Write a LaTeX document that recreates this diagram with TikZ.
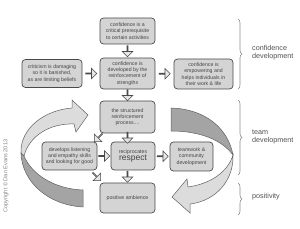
\documentclass[tikz,border=0pt]{standalone}
\usepackage{fontspec}
\setmainfont{Liberation Sans}
\usetikzlibrary{shapes.arrows,decorations.pathreplacing,calc}
\definecolor{boxfill}{HTML}{D4D4D4}
\definecolor{boxline}{HTML}{4A4A4A}
\definecolor{txt}{HTML}{444444}
\definecolor{arrfill}{HTML}{E6E6E6}
\definecolor{ribbonlight}{HTML}{DCDCDC}
\definecolor{ribbondark}{HTML}{A4A4A4}
\definecolor{ribbonline}{HTML}{606060}
\definecolor{bracecol}{HTML}{8A8A8A}
\definecolor{labcol}{HTML}{505050}
\begin{document}
\begin{tikzpicture}[x=1pt,y=-1pt,
  box/.style={draw=boxline, fill=boxfill, rounded corners=3.5pt, line width=0.7pt, text=txt, align=center, font=\fontsize{5.2}{6.3}\selectfont, inner sep=0pt},
  barrow/.style={single arrow, draw=boxline, fill=arrfill, line width=0.55pt, minimum height=11pt, minimum width=10.5pt, single arrow head extend=2.5pt, inner sep=0pt},
  ribbon/.style={draw=ribbonline, line width=0.5pt},
  bracestyle/.style={draw=bracecol, line width=0.6pt, decorate, decoration={brace, amplitude=4pt}},
  lab/.style={text=labcol, align=left, anchor=west, font=\fontsize{7.2}{8.5}\selectfont, inner sep=0pt}]
\useasboundingbox (0,0) rectangle (300,229);

% big curved ribbons
\fill[ribbonlight, ribbon] (21,153) .. controls (20,128) and (45,110) .. (72,108)
  -- (72,100) -- (88,115) -- (76,132) -- (74,124)
  .. controls (50,123) and (29,136) .. (24,156) -- cycle;
\fill[ribbondark, ribbon] (21,153) .. controls (22,182) and (48,205) .. (83,207)
  -- (83,190) .. controls (55,189) and (32,175) .. (24,156) -- cycle;

\fill[ribbondark, ribbon] (171,108) .. controls (205,109) and (228,128) .. (233,155)
  .. controls (222,140) and (200,131) .. (171,131) -- cycle;
\fill[ribbonlight, ribbon] (233,155) .. controls (234,180) and (216,201) .. (190,204)
  -- (190,213) -- (172,197) -- (187,179) -- (188,187)
  .. controls (210,184) and (228,172) .. (233,155) -- cycle;

% boxes
\node[box, minimum width=55pt, minimum height=26pt] (A) at (127.5,31) {confidence is a\\critical prerequisite\\to certain activities};
\node[box, minimum width=55pt, minimum height=31pt] (B) at (127.5,73.5) {confidence is\\developed by the\\reinforcement of\\strengths};
\node[box, minimum width=60pt, minimum height=28pt] (C) at (52,73.5) {criticism is damaging\\so it is banished,\\as are limiting beliefs};
\node[box, minimum width=59pt, minimum height=30pt] (D) at (203.5,74) {confidence is\\empowering and\\helps individuals in\\their work \& life};
\node[box, minimum width=55pt, minimum height=32pt] (E) at (127.5,117) {the structured\\reinforcement\\process....};
\node[box, minimum width=55pt, minimum height=28pt] (F) at (69.5,156) {develops listening\\and empathy skills\\and looking for good};
\node[box, minimum width=44pt, minimum height=28pt] (G) at (133,156) {reciprocates\\{\fontsize{8.5}{9}\selectfont respect}};
\node[box, minimum width=43pt, minimum height=29pt] (H) at (191.5,156.5) {teamwork \&\\community\\development};
\node[box, minimum width=55pt, minimum height=30pt] (I) at (127.5,198) {positive ambience};

% small block arrows
\node[barrow, rotate=-90] (ab) at ($(A.south)!0.5!(B.north)$) {};
\node[barrow] (cb) at ($(C.east)!0.5!(B.west)$) {};
\node[barrow] (bd) at ($(B.east)!0.5!(D.west)$) {};
\node[barrow, rotate=-90] (be) at ($(B.south)!0.5!(E.north)$) {};
\node[barrow, rotate=225] (ef) at ($(E.south west)!0.5!(F.north east)$) {};
\node[barrow, rotate=-90] (eg) at ($(E.south)!0.5!(E.south |- G.north)$) {};
\node[barrow] (fg) at ($(F.east)!0.5!(G.west)$) {};
\node[barrow] (gh) at ($(G.east)!0.5!(H.west)$) {};
\node[barrow, rotate=-90] (gi) at ($(I.north |- G.south)!0.5!(I.north)$) {};
\node[barrow, rotate=-45] (fi) at ($(F.south east)!0.5!(I.north west)+(-2,0)$) {};

% braces and labels
\coordinate (b1t) at (238,19);  \coordinate (b1b) at (238,89);
\coordinate (b2t) at (238,100); \coordinate (b2b) at (238,175);
\coordinate (b3t) at (238,183); \coordinate (b3b) at (238,215);
\draw[bracestyle] (b1t) -- (b1b);
\draw[bracestyle] (b2t) -- (b2b);
\draw[bracestyle] (b3t) -- (b3b);
\node[lab] (l1) at (252,52.5) {confidence\\development};
\node[lab] (l2) at (252,137) {team\\development};
\node[lab] (l3) at (252,197) {positivity};

% copyright
\node[rotate=90, text=gray, font=\fontsize{5.6}{6.5}\selectfont, inner sep=0pt] (copy) at (6,176) {Copyright © Dan Evans 2013};
\end{tikzpicture}
\end{document}
